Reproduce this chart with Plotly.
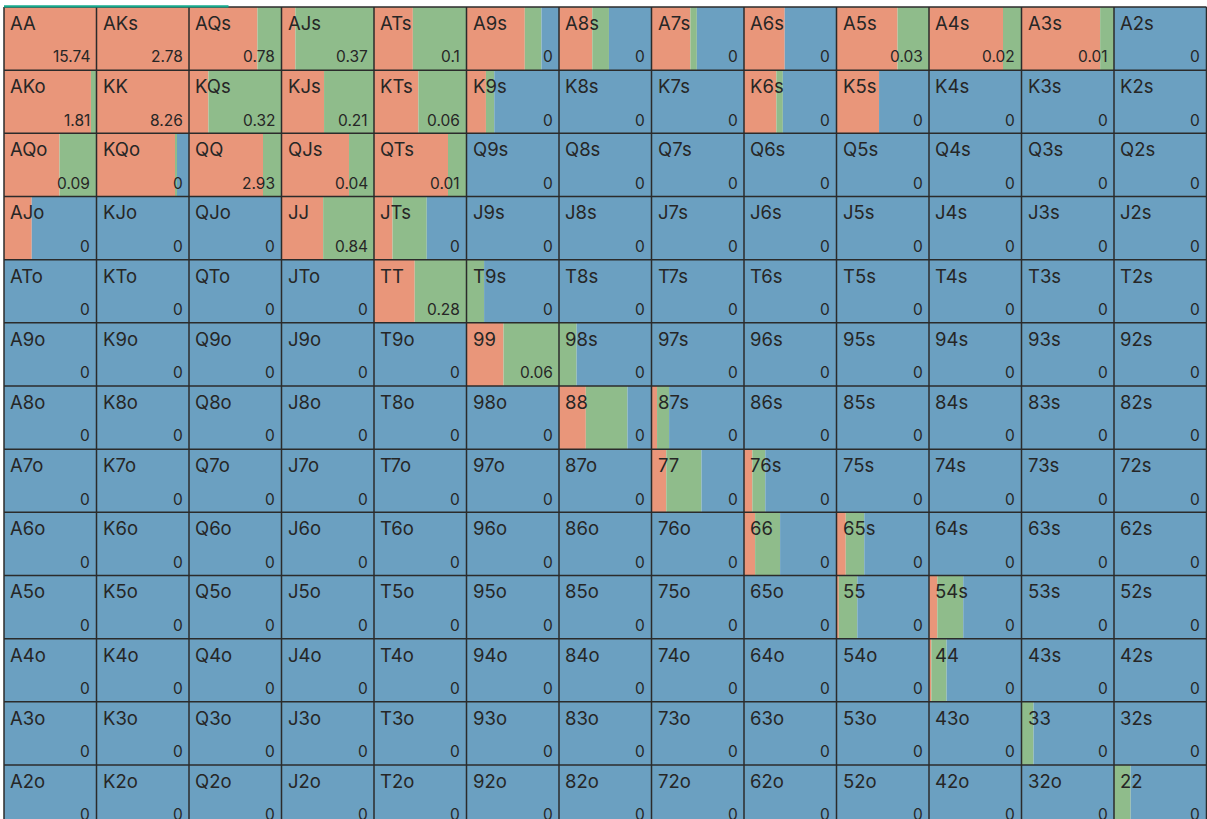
import plotly.graph_objects as go

RANKS = ["A", "K", "Q", "J", "T", "9", "8", "7", "6", "5", "4", "3", "2"]

# percentage of each hand that raises (red) and calls (green); the rest folds (blue)
RAISE = [
    [100, 100, 74, 15, 42, 63, 36, 42, 44, 66, 80, 85, 0],
    [94, 100, 21, 46, 48, 21, 0, 0, 35, 46, 0, 0, 0],
    [60, 85, 80, 73, 80, 0, 0, 0, 0, 0, 0, 0, 0],
    [30, 0, 0, 45, 20, 0, 0, 0, 0, 0, 0, 0, 0],
    [0, 0, 0, 0, 44, 0, 0, 0, 0, 0, 0, 0, 0],
    [0, 0, 0, 0, 0, 40, 0, 0, 0, 0, 0, 0, 0],
    [0, 0, 0, 0, 0, 0, 29, 6, 0, 0, 0, 0, 0],
    [0, 0, 0, 0, 0, 0, 0, 16, 9, 0, 0, 0, 0],
    [0, 0, 0, 0, 0, 0, 0, 0, 12, 10, 0, 0, 0],
    [0, 0, 0, 0, 0, 0, 0, 0, 0, 2.5, 9, 0, 0],
    [0, 0, 0, 0, 0, 0, 0, 0, 0, 0, 2.5, 0, 0],
    [0, 0, 0, 0, 0, 0, 0, 0, 0, 0, 0, 0, 0],
    [0, 0, 0, 0, 0, 0, 0, 0, 0, 0, 0, 0, 0],
]
CALL = [
    [0, 0, 26, 85, 58, 18, 18, 7, 0, 34, 20, 15, 0],
    [6, 0, 79, 54, 52, 9, 0, 0, 7, 0, 0, 0, 0],
    [40, 2, 20, 27, 20, 0, 0, 0, 0, 0, 0, 0, 0],
    [0, 0, 0, 55, 37, 0, 0, 0, 0, 0, 0, 0, 0],
    [0, 0, 0, 0, 56, 19, 0, 0, 0, 0, 0, 0, 0],
    [0, 0, 0, 0, 0, 60, 19, 0, 0, 0, 0, 0, 0],
    [0, 0, 0, 0, 0, 0, 45, 13, 0, 0, 0, 0, 0],
    [0, 0, 0, 0, 0, 0, 0, 38, 14, 0, 0, 0, 0],
    [0, 0, 0, 0, 0, 0, 0, 0, 27, 20, 0, 0, 0],
    [0, 0, 0, 0, 0, 0, 0, 0, 0, 20, 28, 0, 0],
    [0, 0, 0, 0, 0, 0, 0, 0, 0, 0, 16.5, 0, 0],
    [0, 0, 0, 0, 0, 0, 0, 0, 0, 0, 0, 13, 0],
    [0, 0, 0, 0, 0, 0, 0, 0, 0, 0, 0, 0, 18],
]
VALUES = [
    [15.74, 2.78, 0.78, 0.37, 0.1, 0, 0, 0, 0, 0.03, 0.02, 0.01, 0],
    [1.81, 8.26, 0.32, 0.21, 0.06, 0, 0, 0, 0, 0, 0, 0, 0],
    [0.09, 0, 2.93, 0.04, 0.01, 0, 0, 0, 0, 0, 0, 0, 0],
    [0, 0, 0, 0.84, 0, 0, 0, 0, 0, 0, 0, 0, 0],
    [0, 0, 0, 0, 0.28, 0, 0, 0, 0, 0, 0, 0, 0],
    [0, 0, 0, 0, 0, 0.06, 0, 0, 0, 0, 0, 0, 0],
    [0, 0, 0, 0, 0, 0, 0, 0, 0, 0, 0, 0, 0],
    [0, 0, 0, 0, 0, 0, 0, 0, 0, 0, 0, 0, 0],
    [0, 0, 0, 0, 0, 0, 0, 0, 0, 0, 0, 0, 0],
    [0, 0, 0, 0, 0, 0, 0, 0, 0, 0, 0, 0, 0],
    [0, 0, 0, 0, 0, 0, 0, 0, 0, 0, 0, 0, 0],
    [0, 0, 0, 0, 0, 0, 0, 0, 0, 0, 0, 0, 0],
    [0, 0, 0, 0, 0, 0, 0, 0, 0, 0, 0, 0, 0],
]

COL_RAISE = "#E9967A"
COL_CALL = "#8FBC8B"
COL_FOLD = "#6BA0C1"
TXT = "#262626"
GRID = "#2b2b2b"

N = len(RANKS)


def hand(i, j):
    if i == j:
        return RANKS[i] + RANKS[j]
    if i < j:
        return RANKS[i] + RANKS[j] + "s"
    return RANKS[j] + RANKS[i] + "o"


segs = {"raise": ([], [], []), "call": ([], [], []), "fold": ([], [], [])}
for i in range(N):
    for j in range(N):
        r = RAISE[i][j]
        c = CALL[i][j]
        f = 100 - r - c
        off = 0.0
        for key, v in (("raise", r), ("call", c), ("fold", f)):
            if v > 0:
                ys, xs, bs = segs[key]
                ys.append(i + 0.5)
                xs.append(v / 100)
                bs.append(j + off)
                off += v / 100

fig = go.Figure()
for key, col in (("raise", COL_RAISE), ("call", COL_CALL), ("fold", COL_FOLD)):
    ys, xs, bs = segs[key]
    fig.add_trace(go.Bar(
        y=ys, x=xs, base=bs, orientation="h", width=1,
        marker=dict(color=col, line=dict(width=0)),
        hoverinfo="skip", showlegend=False, name=key,
    ))

# grid lines
gx, gy = [], []
for k in range(N + 1):
    gx += [k, k, None]
    gy += [0, N, None]
    gx += [0, N, None]
    gy += [k, k, None]
fig.add_trace(go.Scatter(x=gx, y=gy, mode="lines",
                         line=dict(color=GRID, width=1.5),
                         hoverinfo="skip", showlegend=False))

ann = []
for i in range(N):
    for j in range(N):
        ann.append(dict(x=j + 0.045, y=i + 0.045, xref="x", yref="y",
                        text=hand(i, j), showarrow=False,
                        xanchor="left", yanchor="top",
                        font=dict(family="Inter", size=18.5, color=TXT)))
        ann.append(dict(x=j + 0.955, y=i + 0.79, xref="x", yref="y",
                        text=f"{VALUES[i][j]:g}", showarrow=False,
                        xanchor="right", yanchor="middle",
                        font=dict(family="Inter", size=15.5, color=TXT)))

W = 1207
H = 819
CW = 92.5
RH = 63.17
fig.update_layout(
    width=W, height=H,
    margin=dict(l=0, r=0, t=0, b=0),
    paper_bgcolor="white", plot_bgcolor="white",
    barmode="overlay",
    annotations=ann,
    xaxis=dict(range=[-4 / CW, (W - 4) / CW], visible=False, fixedrange=True),
    yaxis=dict(range=[(H - 7) / RH, -7 / RH], visible=False, fixedrange=True),
    shapes=[dict(type="line", xref="paper", yref="paper",
                 x0=4 / W, x1=228.5 / W, y0=1 - 6.3 / H, y1=1 - 6.3 / H,
                 line=dict(color="#17A98D", width=2.2), layer="above")],
)

fig.write_html(
    "out.html",
    config={"displayModeBar": False},
    post_script="document.body.style.margin='0px';document.body.style.overflow='hidden';",
)
